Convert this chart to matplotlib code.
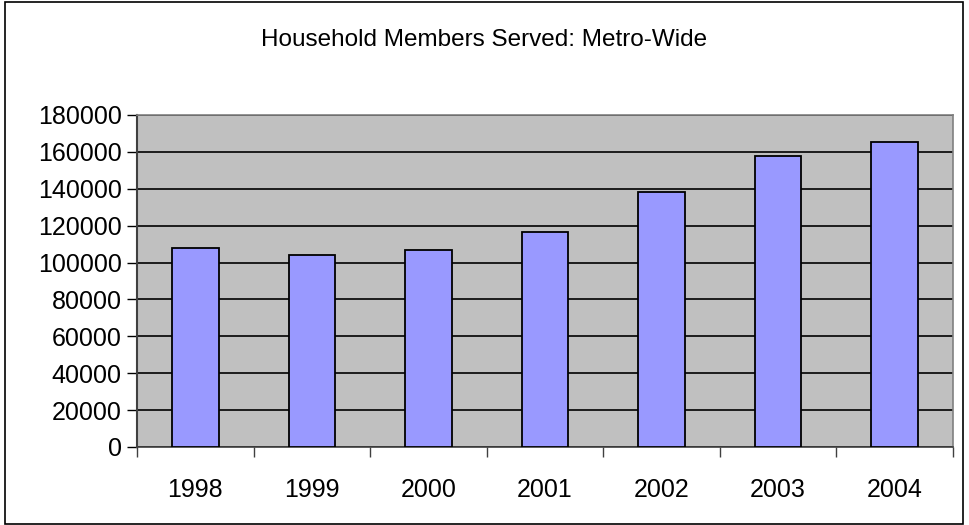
import numpy as np
import matplotlib.pyplot as plt
from matplotlib.patches import Rectangle
from matplotlib.ticker import FixedLocator, NullFormatter

plt.rcParams['font.family'] = ['Liberation Sans', 'DejaVu Sans']

years = ['1998', '1999', '2000', '2001', '2002', '2003', '2004']
members = [108000, 104000, 107000, 116500, 138500, 158000, 165500]
yticks = [0, 20000, 40000, 60000, 80000, 100000, 120000, 140000, 160000, 180000]

fig = plt.figure(figsize=(9.69, 5.25), dpi=100)
ax = fig.add_axes([137/969, 78/525, 816/969, 332/525])
ax.set_facecolor('#C0C0C0')

x = np.arange(len(years))
ax.bar(x, members, width=0.4, color='#9999FF', edgecolor='black', linewidth=1.3, zorder=3)

ax.set_xlim(-0.5, len(years) - 0.5)
ax.set_ylim(0, 180000)
ax.set_yticks(yticks)
ax.set_yticklabels([str(v) for v in yticks], fontsize=18)
ax.yaxis.grid(True, color='black', linewidth=1.2, zorder=1)
ax.set_axisbelow(True)

ax.set_xticks(x)
ax.set_xticklabels(years, fontsize=18)
ax.xaxis.set_minor_locator(FixedLocator(np.arange(-0.5, len(years), 1.0)))
ax.xaxis.set_minor_formatter(NullFormatter())
ax.tick_params(axis='x', which='major', length=0, pad=22)
ax.tick_params(axis='x', which='minor', length=7, width=1, color='#404040')
ax.tick_params(axis='y', length=7, width=1, pad=4, color='black')

for side in ['top', 'right']:
    ax.spines[side].set_color('#808080')
    ax.spines[side].set_linewidth(1.2)
ax.spines['left'].set_color('#404040')
ax.spines['left'].set_linewidth(1.5)
ax.spines['bottom'].set_color('#404040')
ax.spines['bottom'].set_linewidth(1.2)

fig.text(0.5, 1 - 40/525, 'Household Members Served: Metro-Wide', ha='center', va='center', fontsize=17.5)

# outer chart border
fig.patches.append(Rectangle((5/969, 1/525), 958/969, 522/525, transform=fig.transFigure,
                             fill=False, edgecolor='black', linewidth=1.2))

fig.savefig('out.png', dpi=100)
